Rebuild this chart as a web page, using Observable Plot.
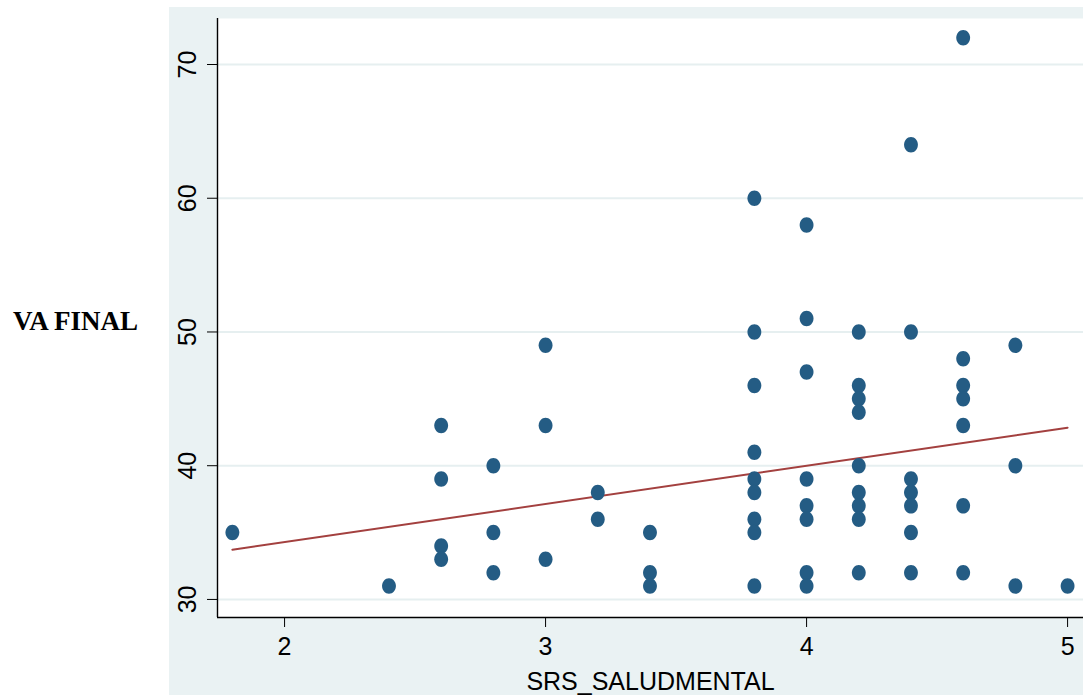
<!DOCTYPE html>
<html>
<head>
<meta charset="utf-8">
<script src="https://cdn.jsdelivr.net/npm/d3@7"></script>
<script src="https://cdn.jsdelivr.net/npm/@observablehq/plot@0.6"></script>
<style>
  html, body { margin: 0; padding: 0; background: #ffffff; }
  #wrap { position: relative; width: 1083px; height: 695px; overflow: hidden; }
  #panel { position: absolute; left: 169px; top: 7px; width: 914px; height: 688px; background: #eaf2f3; }
  #chart { position: absolute; left: 0; top: 0; }
</style>
</head>
<body>
<div id="wrap">
  <div id="panel"></div>
  <div id="chart"></div>
</div>
<script>
// SRS_SALUDMENTAL score and VA FINAL for each observation
const srs = [
  1.8,
  2.4,
  2.6, 2.6, 2.6, 2.6,
  2.8, 2.8, 2.8,
  3.0, 3.0, 3.0,
  3.2, 3.2,
  3.4, 3.4, 3.4,
  3.8, 3.8, 3.8, 3.8, 3.8, 3.8, 3.8, 3.8, 3.8,
  4.0, 4.0, 4.0, 4.0, 4.0, 4.0, 4.0, 4.0,
  4.2, 4.2, 4.2, 4.2, 4.2, 4.2, 4.2, 4.2, 4.2,
  4.4, 4.4, 4.4, 4.4, 4.4, 4.4, 4.4,
  4.6, 4.6, 4.6, 4.6, 4.6, 4.6, 4.6,
  4.8, 4.8, 4.8,
  5.0
];
const vaFinal = [
  35,
  31,
  43, 39, 34, 33,
  40, 35, 32,
  49, 43, 33,
  38, 36,
  35, 32, 31,
  60, 50, 46, 41, 39, 38, 36, 35, 31,
  58, 51, 47, 39, 37, 36, 32, 31,
  50, 46, 45, 44, 40, 38, 37, 36, 32,
  64, 50, 39, 38, 37, 35, 32,
  72, 48, 46, 45, 43, 37, 32,
  49, 40, 31,
  31
];

// Fitted values of the linear fit at both ends of the data range
const fitX = [1.8, 5.0];
const fitY = [33.72, 42.84];

const xTicks = [2, 3, 4, 5];
const yTicks = [30, 40, 50, 60, 70];
const xDomain = [1.743, 5.061];
const yDomain = [28.65, 73.44];

const points = srs.map((x, i) => ({x, y: vaFinal[i]}));
const fit = fitX.map((x, i) => ({x, y: fitY[i]}));

// Slightly tall oval marker
const oval = {
  draw(ctx, size) {
    const r = Math.sqrt(size / Math.PI);
    const rx = r * 0.95, ry = r * 1.06, k = 0.5523;
    ctx.moveTo(rx, 0);
    ctx.bezierCurveTo(rx, k * ry, k * rx, ry, 0, ry);
    ctx.bezierCurveTo(-k * rx, ry, -rx, k * ry, -rx, 0);
    ctx.bezierCurveTo(-rx, -k * ry, -k * rx, -ry, 0, -ry);
    ctx.bezierCurveTo(k * rx, -ry, rx, -k * ry, rx, 0);
    ctx.closePath();
  }
};

const chart = Plot.plot({
  width: 1083,
  height: 695,
  marginLeft: 217,
  marginRight: 0,
  marginTop: 18,
  marginBottom: 78,
  style: {
    background: "transparent",
    fontFamily: "'Liberation Sans', Arial, Helvetica, sans-serif",
    fontSize: "25px",
    color: "#000"
  },
  x: {domain: xDomain, label: null},
  y: {domain: yDomain, label: null},
  marks: [
    Plot.frame({fill: "#ffffff", stroke: null}),
    Plot.gridY(yTicks, {stroke: "#e6eff0", strokeOpacity: 1, strokeWidth: 2}),
    Plot.axisX(xTicks, {
      tickSize: 10,
      tickPadding: 10,
      tickFormat: (d) => String(d),
      stroke: "#000",
      label: "SRS_SALUDMENTAL",
      labelAnchor: "center",
      labelOffset: 72,
      labelArrow: "none"
    }),
    Plot.axisY(yTicks, {
      tickSize: 10,
      tickPadding: 12,
      tickRotate: -90,
      tickFormat: (d) => String(d),
      stroke: "#000",
      label: null
    }),
    Plot.ruleX([xDomain[0]], {stroke: "#000", strokeWidth: 1.4}),
    Plot.ruleY([yDomain[0]], {stroke: "#000", strokeWidth: 1.4}),
    Plot.line(fit, {x: "x", y: "y", stroke: "#a3403f", strokeWidth: 2}),
    Plot.dot(points, {x: "x", y: "y", r: 7.3, symbol: oval, fill: "#245c84", stroke: null}),
    Plot.text(["VA FINAL"], {
      frameAnchor: "left",
      dx: -142,
      dy: 3,
      textAnchor: "middle",
      fontFamily: "'Liberation Serif', 'Times New Roman', serif",
      fontWeight: "bold",
      fontSize: 27,
      fill: "#000"
    })
  ]
});

document.getElementById("chart").appendChild(chart);
</script>
</body>
</html>
